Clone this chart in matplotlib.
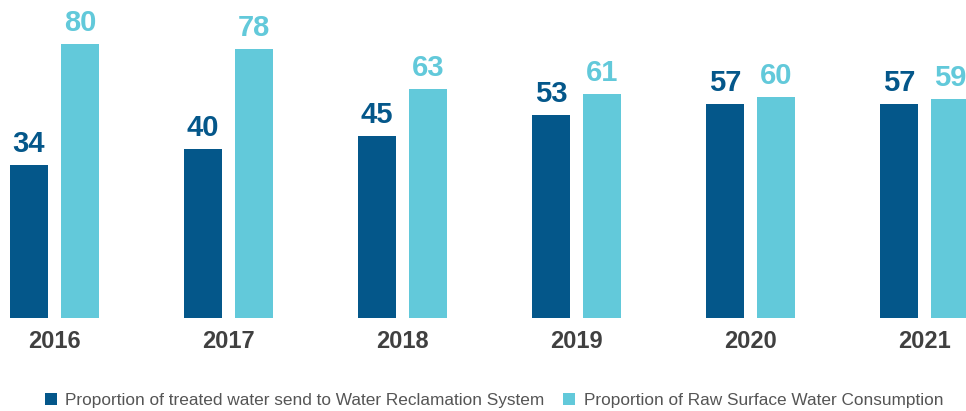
import matplotlib
matplotlib.use("Agg")
import matplotlib.pyplot as plt
from matplotlib.patches import Rectangle

plt.rcParams['font.family'] = ['Liberation Sans', 'DejaVu Sans']

years = ["2016", "2017", "2018", "2019", "2020", "2021"]
treated_to_reclamation = [34, 40, 45, 53, 57, 57]
raw_surface_consumption = [80, 78, 63, 61, 60, 59]
series_labels = [
    "Proportion of treated water send to Water Reclamation System",
    "Proportion of Raw Surface Water Consumption",
]

DARK = "#04578A"
LIGHT = "#62C9DA"
YEAR_COLOR = "#404040"
LEGEND_TEXT = "#555555"

W, H = 966, 411
fig = plt.figure(figsize=(W / 100, H / 100), dpi=100)

# plotting area spans the top of the figure down to the bar baseline
base_px = 318
ax = fig.add_axes([0, (H - base_px) / H, 1, base_px / H])
ax.axis("off")

group_px = 174.0
first_center_px = 54.5
bar_w = 38 / group_px
offset = 25.5 / group_px
ax.set_xlim(-first_center_px / group_px, (W - first_center_px) / group_px)
ax.set_ylim(-24.2, 96.7)

xs = list(range(len(years)))
bottom = -24.2
for vals, color, dx in ((treated_to_reclamation, DARK, -offset),
                        (raw_surface_consumption, LIGHT, offset)):
    pos = [x + dx for x in xs]
    heights = [v - bottom for v in vals]
    ax.bar(pos, heights, width=bar_w, bottom=bottom, color=color, linewidth=0)
    for p, v in zip(pos, vals):
        ax.annotate(str(v), xy=(p, v), xytext=(0, 13), textcoords="offset pixels",
                    ha="center", va="baseline", fontsize=21, fontweight="bold",
                    color=color, annotation_clip=False)

for x, yr in zip(xs, years):
    ax.annotate(yr, xy=(x, 0), xycoords=("data", "axes fraction"),
                xytext=(0, -30), textcoords="offset pixels",
                ha="center", va="baseline", fontsize=17, fontweight="bold",
                color=YEAR_COLOR, annotation_clip=False)

# legend drawn in figure pixel coordinates
def fx(px):
    return px / W

def fy(py):
    return (H - py) / H

for sq_x, txt_x, color, label in ((45, 65, DARK, series_labels[0]),
                                  (563, 584, LIGHT, series_labels[1])):
    fig.patches.append(Rectangle((fx(sq_x), fy(405)), 12 / W, 12 / H,
                                 transform=fig.transFigure, facecolor=color,
                                 edgecolor="none"))
    fig.text(fx(txt_x), fy(405), label, ha="left", va="baseline",
             fontsize=12.4, color=LEGEND_TEXT)

fig.savefig("out.png", dpi=100)
